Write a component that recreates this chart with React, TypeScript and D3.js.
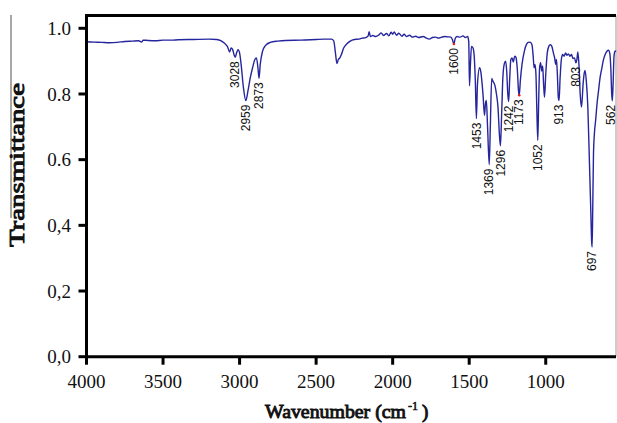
import React from "react";
import * as d3 from "d3";

// Spectrum readings: wavenumber (cm-1) and transmittance
const wavenumbers: number[] = [
  4000, 3950, 3900, 3850, 3800, 3750, 3700, 3660, 3640, 3630, 3600, 3550, 3500, 3450, 3400, 3300, 3200, 3150, 3120, 3100,
  3080, 3065, 3055, 3045, 3035, 3028, 3020, 3010, 3000, 2990, 2975, 2959, 2945, 2930, 2915, 2900, 2890, 2880, 2873, 2865,
  2850, 2830, 2800, 2750, 2700, 2600, 2500, 2450, 2400, 2385, 2375, 2364, 2355, 2345, 2335, 2320, 2300, 2280, 2250, 2220,
  2200, 2180, 2160, 2154, 2145, 2130, 2110, 2090, 2075, 2060, 2040, 2025, 2010, 2000, 1990, 1975, 1960, 1940, 1925, 1910,
  1890, 1870, 1850, 1830, 1800, 1780, 1760, 1740, 1720, 1700, 1680, 1660, 1640, 1620, 1610, 1600, 1592, 1580, 1560, 1540,
  1525, 1510, 1503, 1498, 1492, 1485, 1475, 1468, 1460, 1453, 1446, 1432, 1425, 1410, 1400, 1394, 1388, 1380, 1369, 1362,
  1353, 1346, 1332, 1322, 1312, 1303, 1296, 1288, 1280, 1270, 1262, 1255, 1248, 1242, 1236, 1228, 1220, 1212, 1203, 1195,
  1185, 1178, 1173, 1166, 1155, 1140, 1125, 1110, 1100, 1090, 1082, 1076, 1070, 1064, 1058, 1052, 1046, 1040, 1034, 1026,
  1020, 1014, 1008, 1000, 990, 980, 970, 960, 950, 942, 935, 930, 924, 918, 913, 906, 898, 890, 880, 870,
  862, 852, 842, 832, 822, 812, 803, 797, 790, 782, 775, 766, 756, 748, 743, 735, 725, 715, 706, 700,
  697, 693, 688, 682, 674, 665, 655, 645, 635, 625, 612, 600, 590, 582, 575, 569, 565, 560, 554, 548, 540,
];
const transmittance: number[] = [
  0.959, 0.958, 0.957, 0.956, 0.957, 0.960, 0.961, 0.962, 0.958, 0.964, 0.963, 0.962, 0.964, 0.964, 0.965, 0.966, 0.967, 0.966, 0.962, 0.955,
  0.945, 0.928, 0.940, 0.935, 0.918, 0.912, 0.925, 0.935, 0.925, 0.890, 0.820, 0.780, 0.810, 0.850, 0.880, 0.905, 0.910, 0.880, 0.848, 0.890,
  0.930, 0.948, 0.957, 0.961, 0.963, 0.964, 0.966, 0.967, 0.967, 0.962, 0.930, 0.893, 0.905, 0.910, 0.920, 0.940, 0.952, 0.960, 0.966, 0.967,
  0.970, 0.971, 0.977, 0.990, 0.975, 0.978, 0.975, 0.980, 0.986, 0.978, 0.984, 0.977, 0.988, 0.982, 0.989, 0.979, 0.985, 0.976, 0.982, 0.975,
  0.979, 0.973, 0.976, 0.972, 0.975, 0.970, 0.967, 0.972, 0.973, 0.970, 0.973, 0.975, 0.974, 0.973, 0.966, 0.952, 0.968, 0.975, 0.973, 0.977,
  0.972, 0.975, 0.960, 0.825, 0.890, 0.945, 0.940, 0.920, 0.840, 0.725, 0.830, 0.880, 0.870, 0.800, 0.735, 0.770, 0.780, 0.700, 0.585, 0.700,
  0.847, 0.840, 0.826, 0.800, 0.760, 0.680, 0.642, 0.740, 0.850, 0.893, 0.900, 0.870, 0.800, 0.777, 0.840, 0.905, 0.910, 0.897, 0.915, 0.912,
  0.870, 0.810, 0.796, 0.840, 0.890, 0.930, 0.952, 0.958, 0.957, 0.950, 0.915, 0.880, 0.890, 0.860, 0.750, 0.659, 0.780, 0.880, 0.895, 0.870,
  0.885, 0.830, 0.790, 0.860, 0.925, 0.945, 0.950, 0.945, 0.925, 0.910, 0.890, 0.905, 0.860, 0.790, 0.780, 0.850, 0.905, 0.920, 0.915, 0.925,
  0.918, 0.922, 0.915, 0.920, 0.908, 0.910, 0.895, 0.903, 0.928, 0.880, 0.800, 0.760, 0.830, 0.865, 0.872, 0.840, 0.760, 0.600, 0.450, 0.350,
  0.334, 0.450, 0.620, 0.680, 0.720, 0.770, 0.810, 0.850, 0.875, 0.900, 0.920, 0.930, 0.933, 0.925, 0.880, 0.800, 0.779, 0.830, 0.915, 0.930, 0.930,
];

const peakLabels: number[] = [3028, 2959, 2873, 1600, 1453, 1369, 1296, 1242, 1173, 1052, 913, 803, 697, 562];
const markedPeaks: number[] = [1600, 1173];

const xTicks: number[] = [4000, 3500, 3000, 2500, 2000, 1500, 1000];
const yTicks: number[] = [1.0, 0.8, 0.6, 0.4, 0.2, 0.0];
const yTickLabels: string[] = ["1.0", "0.8", "0.6", "0,4", "0,2", "0,0"];

const W = 617;
const H = 423;
const left = 86.5;
const right = 616;
const top = 15.5;
const bottom = 356.7;

const serifStyle = { fontFamily: "Liberation Serif" };
const sansStyle = { fontFamily: "Liberation Sans" };
// emboldened serif (bold face drawn with a thin outline of the same colour)
const boldProps = { stroke: "#111", strokeWidth: 0.9, fill: "#111", style: serifStyle };

export default function App() {
  const x = d3.scaleLinear().domain([4000, 541]).range([left, right]);
  const y = d3.scaleLinear().domain([0, 1]).range([bottom, 28.3]);

  const pts = wavenumbers.map((w, i) => [w, transmittance[i]] as [number, number]);
  const line = d3
    .line<[number, number]>()
    .x((d) => x(d[0]))
    .y((d) => y(d[1]))
    .curve(d3.curveMonotoneX);

  const peakMin = (w: number) => {
    let best = pts[0];
    let bv = Infinity;
    pts.forEach((p) => {
      if (Math.abs(p[0] - w) <= 15 && p[1] < bv) {
        bv = p[1];
        best = p;
      }
    });
    return best;
  };

  return (
    <svg width={W} height={H} style={{ position: "absolute", left: 0, top: 0, background: "#fff" }}>
      <rect x={0} y={0} width={W} height={H} fill="#fff" />
      <line x1={11} y1={15} x2={11} y2={218} stroke="#8a8a8a" strokeWidth={1.5} />
      <line x1={right} y1={top} x2={right} y2={bottom} stroke="#9a9a9a" strokeWidth={1} />

      <path d={line(pts) || ""} fill="none" stroke="#25259e" strokeWidth={1.4} strokeLinejoin="round" />

      {markedPeaks.map((w) => {
        const p = peakMin(w);
        return <circle key={"m" + w} cx={x(p[0])} cy={y(p[1])} r={1.3} fill="#e02020" />;
      })}

      {peakLabels.map((w) => {
        const p = peakMin(w);
        const lx = Math.min(x(w), 610.5);
        return (
          <text
            key={"l" + w}
            transform={`translate(${lx},${y(p[1]) + 4}) rotate(-90)`}
            textAnchor="end"
            dy="0.35em"
            style={sansStyle}
            fontSize={12}
            fill="#111"
          >
            {w}
          </text>
        );
      })}

      <line x1={left - 1.5} y1={top} x2={right} y2={top} stroke="#000" strokeWidth={3} />
      <line x1={left} y1={top} x2={left} y2={bottom + 1.5} stroke="#000" strokeWidth={3} />
      <line x1={left - 1.5} y1={bottom} x2={right} y2={bottom} stroke="#000" strokeWidth={3} />

      {yTicks.map((t, i) => (
        <g key={"y" + t}>
          <line x1={left - 8} x2={left} y1={y(t)} y2={y(t)} stroke="#000" strokeWidth={3} />
          <text x={71} y={y(t)} dy="0.35em" textAnchor="end" style={serifStyle} fontSize={19} fill="#111">
            {yTickLabels[i]}
          </text>
        </g>
      ))}
      {xTicks.map((t) => (
        <g key={"x" + t}>
          <line x1={x(t)} x2={x(t)} y1={bottom} y2={bottom + 8} stroke="#000" strokeWidth={3} />
          <text x={x(t)} y={388} textAnchor="middle" style={serifStyle} fontSize={19} fill="#111">
            {t}
          </text>
        </g>
      ))}

      <text
        transform="translate(24,165) rotate(-90)"
        textAnchor="middle"
        fontSize={21}
        textLength={164}
        lengthAdjust="spacingAndGlyphs"
        {...boldProps}
      >
        Transmittance
      </text>
      <text x={265} y={418} fontSize={19} textLength={141} lengthAdjust="spacingAndGlyphs" {...boldProps}>
        Wavenumber (cm
      </text>
      <text x={408} y={410} fontSize={12} {...boldProps} strokeWidth={0.6}>
        -1
      </text>
      <text x={422} y={418} fontSize={19} {...boldProps}>
        )
      </text>
    </svg>
  );
}
